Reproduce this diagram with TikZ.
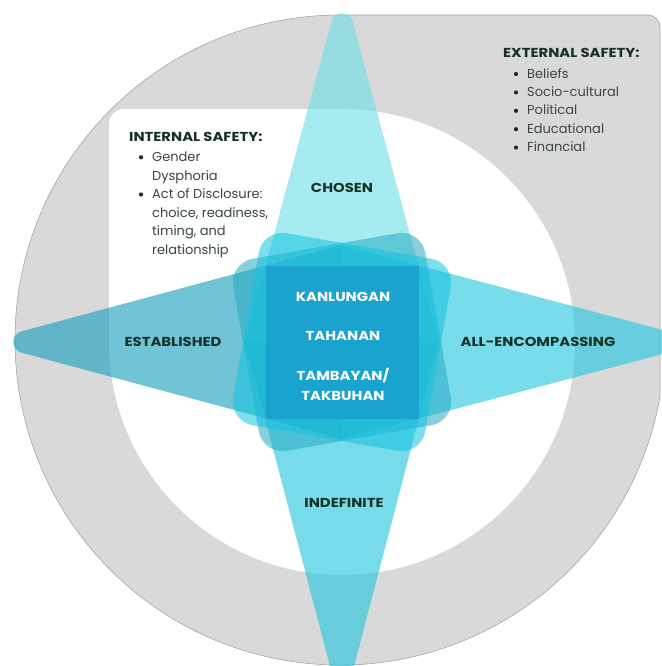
\documentclass[tikz,border=0pt]{standalone}
\usepackage{fontspec}
\setmainfont{Poppins}
\newfontfamily\widefont{Poppins}[FakeStretch=1.14]
\usetikzlibrary{positioning}

\definecolor{ringgray}{RGB}{217,217,217}
\definecolor{ringline}{RGB}{168,168,168}
\definecolor{topaqua}{RGB}{107,223,230}
\definecolor{botcyan}{RGB}{30,196,221}
\definecolor{leftteal}{RGB}{17,157,187}
\definecolor{rightcyan}{RGB}{30,197,222}
\definecolor{petalcyan}{RGB}{20,195,225}
\definecolor{petalteal}{RGB}{40,170,195}
\definecolor{coreblue}{RGB}{26,163,207}
\definecolor{headgreen}{RGB}{22,50,38}
\definecolor{bodygreen}{RGB}{58,72,64}

\begin{document}
\begin{tikzpicture}[x=1pt,y=-1pt,
    arm/.style={fill opacity=0.6},
    petal/.style={minimum size=195pt, rounded corners=24pt, inner sep=0pt, fill opacity=0.55},
    armlabel/.style={font=\widefont\bfseries\fontsize{13}{15}\selectfont, text=headgreen},
    corelabel/.style={font=\widefont\bfseries\fontsize{13}{20}\selectfont, text=white, align=center},
    listhead/.style={font=\widefont\bfseries\fontsize{13}{15}\selectfont, text=headgreen, anchor=base west, inner sep=0pt},
    listitem/.style={font=\fontsize{13}{15}\selectfont, text=bodygreen, anchor=base west, inner sep=0pt},
    dot/.style={circle, fill=headgreen, inner sep=0pt, minimum size=4.2pt}]

  \useasboundingbox (0,0) rectangle (661,666);
  \coordinate (c) at (342,342);

  % outer ring (disc plus the upper right corner)
  \filldraw[fill=ringgray, draw=ringline, line width=0.6pt]
    (15,340) arc[start angle=180, end angle=270, radius=325]
    -- (648,15) arc[start angle=-90, end angle=0, radius=12]
    -- (660,396.8) arc[start angle=10.06, end angle=180, radius=325] -- cycle;

  % inner field (disc plus the upper left corner)
  \fill[white] (342,109) -- (124,109) arc[start angle=-90, end angle=-180, radius=15]
    -- (109,342) arc[start angle=180, end angle=-90, radius=233] -- cycle;

  % the four arms, visible tips rounded with r=11
  \fill[topaqua, arm] (245,342) -- (331.38,21.44) arc[start angle=195.08, end angle=344.92, radius=11] -- (439,342) -- cycle;
  \fill[botcyan, arm] (245,342) -- (342,712) -- (439,342) -- cycle;
  \fill[leftteal, arm] (342,245) -- (21.44,331.38) arc[start angle=254.92, end angle=105.08, radius=11] -- (342,439) -- cycle;
  \fill[rightcyan, arm] (342,245) -- (708,342) -- (342,439) -- cycle;

  % tilted squares and the core
  \node[petal, fill=petalteal, rotate=10] (petalA) at (c) {};
  \node[petal, fill=petalcyan, rotate=-10] (petalB) at (c) {};
  \node[fill=coreblue, minimum size=153pt, inner sep=0pt] (core) at (c) {};

  \node[armlabel] (chosen) at (342,188) {CHOSEN};
  \node[armlabel] (established) at (173,342) {ESTABLISHED};
  \node[armlabel] (allenc) at (538,342) {ALL-ENCOMPASSING};
  \node[armlabel] (indefinite) at (344,503) {INDEFINITE};

  \node[corelabel] (kanlungan) at (343,297) {KANLUNGAN};
  \node[corelabel] (tahanan) at (343,336) {TAHANAN};
  \node[corelabel] (tambayan) at (343,384) {TAMBAYAN/\\TAKBUHAN};

  % internal list
  \node[listhead] (inthead) at (129,141) {INTERNAL SAFETY:};
  \foreach \txt [count=\i] in {Gender, Dysphoria, Act of Disclosure:, {choice, readiness,}, {timing, and}, relationship} {
    \node[listitem] (int\i) at (152,142.8+18.6*\i) {\txt};
  }
  \node[dot] (intb1) at (141,157.3) {};
  \node[dot] (intb3) at (141,194.5) {};

  % external list
  \node[listhead] (exthead) at (503,57.3) {EXTERNAL SAFETY:};
  \foreach \txt [count=\i] in {Beliefs, Socio-cultural, Political, Educational, Financial} {
    \node[listitem] (ext\i) at (527,59.8+18.4*\i) {\txt};
    \node[dot] (extb\i) at (516,55.6+18.4*\i) {};
  }
\end{tikzpicture}
\end{document}
